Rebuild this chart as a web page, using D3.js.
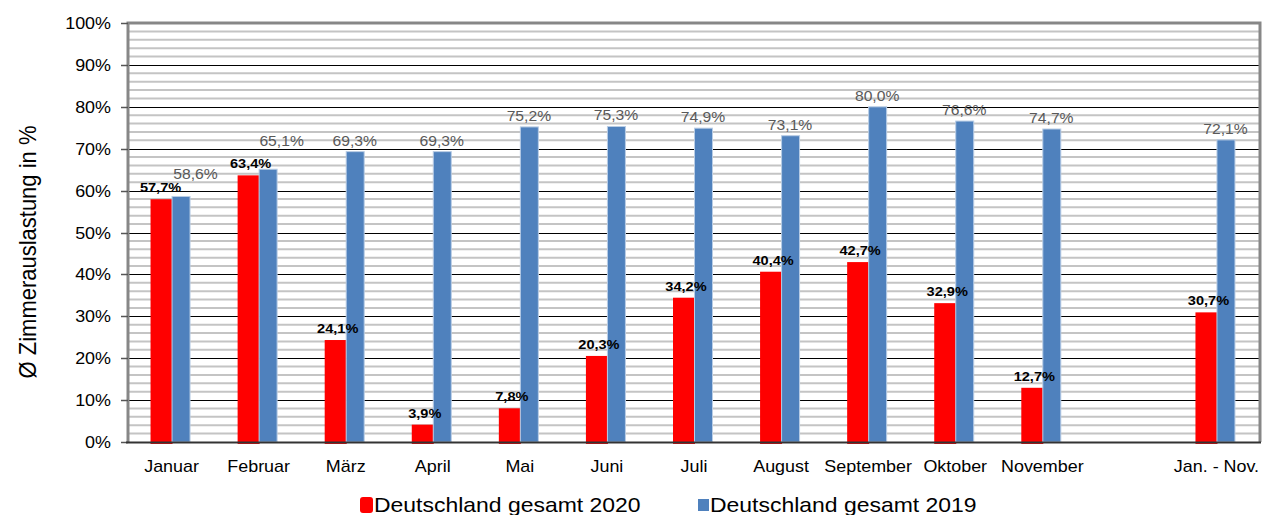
<!DOCTYPE html>
<html>
<head>
<meta charset="utf-8">
<script src="https://cdn.jsdelivr.net/npm/d3@7"></script>
<style>
  body { margin: 0; background: #fff; }
  text { font-family: "Liberation Sans", Arial, sans-serif; }
</style>
</head>
<body>
<div id="chart"></div>
<script>
// months (one empty slot before the year-to-date column)
const categories = ["Januar", "Februar", "März", "April", "Mai", "Juni", "Juli",
  "August", "September", "Oktober", "November", "", "Jan. - Nov."];
const values2020 = [57.7, 63.4, 24.1, 3.9, 7.8, 20.3, 34.2, 40.4, 42.7, 32.9, 12.7, null, 30.7];
const values2019 = [58.6, 65.1, 69.3, 69.3, 75.2, 75.3, 74.9, 73.1, 80.0, 76.6, 74.7, null, 72.1];
const yTicks = [0, 10, 20, 30, 40, 50, 60, 70, 80, 90, 100];
const seriesNames = ["Deutschland gesamt 2020", "Deutschland gesamt 2019"];

const width = 1263;
const height = 515;
const sx = 1.12; // the original text looks a bit wider than plain Arial

const svg = d3.select("#chart")
  .append("svg")
  .attr("width", width)
  .attr("height", height);

const x = d3.scaleBand()
  .domain(categories.map((c, i) => i))
  .range([128, 1260]);

const y = d3.scaleLinear()
  .domain([0, 100])
  .range([442, 23]);

// helper for horizontally stretched text
function label(g, tx, ty, str) {
  return g.append("text")
    .attr("transform", `translate(${tx},${ty}) scale(${sx},1)`)
    .text(str);
}

// minor grid every 2%
const minor = d3.range(2, 100, 2).filter(v => v % 10 !== 0);
svg.append("g")
  .selectAll("line")
  .data(minor)
  .enter().append("line")
  .attr("x1", 128).attr("x2", 1260)
  .attr("y1", d => y(d)).attr("y2", d => y(d))
  .attr("stroke", "#c4c4c4")
  .attr("stroke-width", 2);

// major grid every 10%
svg.append("g")
  .selectAll("line")
  .data(yTicks.filter(v => v > 0 && v < 100))
  .enter().append("line")
  .attr("x1", 128).attr("x2", 1260)
  .attr("y1", d => Math.round(y(d)) + 0.5).attr("y2", d => Math.round(y(d)) + 0.5)
  .attr("stroke", "#000")
  .attr("stroke-width", 1);

// frame: top, right, left in grey
svg.append("path")
  .attr("d", `M128,${y(0)} V${y(100)} H1260 V${y(0)}`)
  .attr("fill", "none")
  .attr("stroke", "#878787")
  .attr("stroke-width", 3);

// y ticks
svg.append("g")
  .selectAll("line")
  .data(yTicks)
  .enter().append("line")
  .attr("x1", 121).attr("x2", 128)
  .attr("y1", d => Math.round(y(d)) + 0.5).attr("y2", d => Math.round(y(d)) + 0.5)
  .attr("stroke", "#555")
  .attr("stroke-width", 1.5);

const yLabels = svg.append("g")
  .attr("font-size", "16px")
  .attr("fill", "#000")
  .attr("text-anchor", "end");
yTicks.forEach(t => label(yLabels, 111, y(t) + 6, t + "%"));

// y axis title
svg.append("text")
  .attr("transform", `translate(36,${252}) rotate(-90) scale(1,1.08)`)
  .attr("text-anchor", "middle")
  .attr("font-size", "22px")
  .attr("fill", "#000")
  .text("Ø Zimmerauslastung in %");

const center = i => x(i) + x.bandwidth() / 2;
const redW = 20;
const blueW = 18;

// bars 2020
svg.append("g")
  .selectAll("rect")
  .data(values2020.map((v, i) => ({ v, i })).filter(d => d.v !== null))
  .enter().append("rect")
  .attr("x", d => center(d.i) - redW)
  .attr("y", d => y(d.v))
  .attr("width", redW)
  .attr("height", d => y(0) - y(d.v) + 1)
  .attr("fill", "#ff0000")
  .attr("stroke", "#ff0000")
  .attr("stroke-width", 2);

// bars 2019
svg.append("g")
  .selectAll("rect")
  .data(values2019.map((v, i) => ({ v, i })).filter(d => d.v !== null))
  .enter().append("rect")
  .attr("x", d => center(d.i) + 0.5)
  .attr("y", d => y(d.v))
  .attr("width", blueW)
  .attr("height", d => y(0) - y(d.v))
  .attr("fill", "#4f81bd")
  .attr("stroke", "#b9cde5")
  .attr("stroke-width", 1);

// x axis line
svg.append("line")
  .attr("x1", 126).attr("x2", 1261)
  .attr("y1", y(0) + 0.5).attr("y2", y(0) + 0.5)
  .attr("stroke", "#333")
  .attr("stroke-width", 2);

// value labels (a couple are moved aside so they don't collide)
const nudge2019 = { 0: [15, -11], 1: [14, -17] };
const nudge2020 = { 0: [-3, 0] };

const lab2020 = svg.append("g")
  .attr("font-size", "13px")
  .attr("font-weight", "bold")
  .attr("fill", "#000")
  .attr("text-anchor", "middle");
values2020.forEach((v, i) => {
  if (v === null) return;
  const n = nudge2020[i] || [0, 0];
  label(lab2020, center(i) - redW / 2 + 2 + n[0], y(v) - 8 + n[1], v.toFixed(1).replace(".", ",") + "%");
});

const lab2019 = svg.append("g")
  .attr("font-size", "14px")
  .attr("fill", "#595959")
  .attr("text-anchor", "middle");
values2019.forEach((v, i) => {
  if (v === null) return;
  const n = nudge2019[i] || [0, 0];
  label(lab2019, center(i) + blueW / 2 + n[0], y(v) - 6 + n[1], v.toFixed(1).replace(".", ",") + "%");
});

// category labels
const xLabels = svg.append("g")
  .attr("font-size", "16px")
  .attr("fill", "#000")
  .attr("text-anchor", "middle");
categories.forEach((c, i) => {
  if (c) label(xLabels, center(i), 472, c);
});

// legend
const legend = svg.append("g").attr("font-size", "20.5px").attr("fill", "#000");
legend.append("rect")
  .attr("x", 360).attr("y", 497).attr("width", 13).attr("height", 16)
  .attr("rx", 3)
  .attr("fill", "#ff0000");
label(legend, 374, 512, seriesNames[0]);
legend.append("rect")
  .attr("x", 698).attr("y", 499).attr("width", 11).attr("height", 12)
  .attr("fill", "#4f81bd");
label(legend, 710, 512, seriesNames[1]);
</script>
</body>
</html>
